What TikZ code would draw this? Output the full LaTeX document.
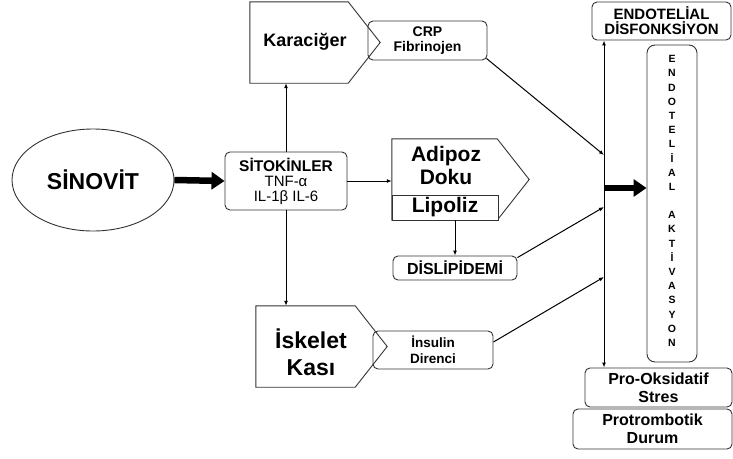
\documentclass[tikz,border=0pt]{standalone}
\usepackage{fontspec}
\setmainfont{Liberation Sans}
\usetikzlibrary{arrows.meta,shapes.geometric,calc}
\begin{document}
\begin{tikzpicture}[x=1pt,y=-1pt,
 bx/.style={draw=black!80,line width=0.9pt,rounded corners=5pt,inner sep=0pt,align=center},
 ph/.style={inner sep=0pt,align=center},
 pent/.style={draw=black!80,line width=0.9pt,line join=miter},
 ln/.style={line width=1pt,-{Latex[length=5pt,width=4pt]}},
 lnb/.style={line width=1pt,{Latex[length=5pt,width=4pt]}-{Latex[length=5pt,width=4pt]}},
 big/.style={line width=6.5pt,-{Triangle[length=13pt,width=17pt]}},
 fs/.style={font=\fontsize{#1}{#1}\selectfont\bfseries}
]
\useasboundingbox (0,0) rectangle (733,458);

% SINOVIT
\node[draw=black!80,line width=0.9pt,ellipse,minimum width=162pt,minimum height=102pt,inner sep=0pt,
      font=\fontsize{23}{23}\selectfont\bfseries] (sin) at (93,180) {SİNOVİT};

% SITOKINLER
\node[bx,minimum width=122pt,minimum height=58pt,font=\fontsize{15}{15.5}\selectfont] (sit) at (286,181)
  {{\bfseries\fontsize{15.5}{15.5}\selectfont SİTOKİNLER}\\[0pt]
   TNF-α\\[-1pt]
   IL-1β IL-6};

% Karaciger
\node[ph,minimum width=98pt,minimum height=81pt] (kar) at (299,42.5) {};
\draw[pent] (kar.north west) -- (kar.north east) -- ($(kar.east)+(32,0)$) -- (kar.south east) -- (kar.south west) -- cycle;
\node[ph,fs=18] (kart) at (305,42) {Karaciğer};

% CRP
\node[bx,minimum width=119pt,minimum height=39pt,fs=14] (crp) at (427.5,40.5)
  {CRP\\[1pt]Fibrinojen};

% Adipoz
\node[ph,minimum width=105pt,minimum height=81pt] (adi) at (444.5,179.5) {};
\draw[pent] (adi.north west) -- (adi.north east) -- ($(adi.east)+(32,0)$) -- (adi.south east) -- (adi.south west) -- cycle;
\node[ph,fs=21] (adit) at (446,165) {Adipoz\\[2pt]Doku};
\node[bx,fill=white,minimum width=106pt,minimum height=25pt,fs=21,
      sharp corners=south] (lip) at (445,207.5) {Lipoliz};

% Dislipidemi
\node[bx,minimum width=124pt,minimum height=24pt,fs=16] (dis) at (455,268) {DİSLİPİDEMİ};

% Iskelet
\node[ph,minimum width=99pt,minimum height=81pt] (isk) at (305.5,346.5) {};
\draw[pent] (isk.north west) -- (isk.north east) -- ($(isk.east)+(32,0)$) -- (isk.south east) -- (isk.south west) -- cycle;
\node[ph,fs=23] (iskt) at (311,352) {İskelet\\[4pt]Kası};

% Insulin
\node[bx,minimum width=120pt,minimum height=38pt,fs=13.5] (ins) at (433,350)
  {İnsulin\\[2pt]Direnci};

% right column
\node[bx,minimum width=139pt,minimum height=38pt,fs=15] (endo) at (661.5,21)
  {ENDOTELİAL\\[0pt]DİSFONKSİYON};
\node[bx,rounded corners=8pt,minimum width=50pt,minimum height=317pt] (akt) at (672,203.5) {};
\node[ph,font=\fontsize{10.5}{14.2}\selectfont\bfseries] (aktt) at (672,201)
  {E\\N\\D\\O\\T\\E\\L\\İ\\A\\L\\[14pt]A\\K\\T\\İ\\V\\A\\S\\Y\\O\\N};
\node[bx,minimum width=147pt,minimum height=39pt,fs=16] (pro) at (658.5,387.5)
  {Pro-Oksidatif\\[2pt]Stres};
\node[bx,minimum width=159pt,minimum height=40pt,fs=16] (prt) at (652.5,429)
  {Protrombotik\\[2pt]Durum};

% bus
\coordinate (bus) at (604,200);
\coordinate (b1) at (604,155);
\coordinate (b2) at (604,207);
\coordinate (b3) at (604,277);
\coordinate (b4) at (604,188);

% connectors
\draw[big] (sin.east) -- (sit.west);
\draw[ln] (sit.north) -- (sit.north |- kar.south);
\draw[ln] (sit.south) -- (sit.south |- isk.north);
\draw[ln] (sit.east) -- (sit.east -| adi.west);
\draw[ln] (lip.south -| dis.north) -- (dis.north);
\draw[lnb] (bus |- pro.north) -- (bus |- endo.south);
\draw[ln] ($(crp.south east)+(-1,-2)$) -- (b1);
\draw[ln] ($(dis.north east)+(0,2)$) -- (b2);
\draw[ln] ($(ins.east)+(0,-8)$) -- (b3);
\draw[big] (b4) -- (b4 -| akt.west);
\end{tikzpicture}
\end{document}
